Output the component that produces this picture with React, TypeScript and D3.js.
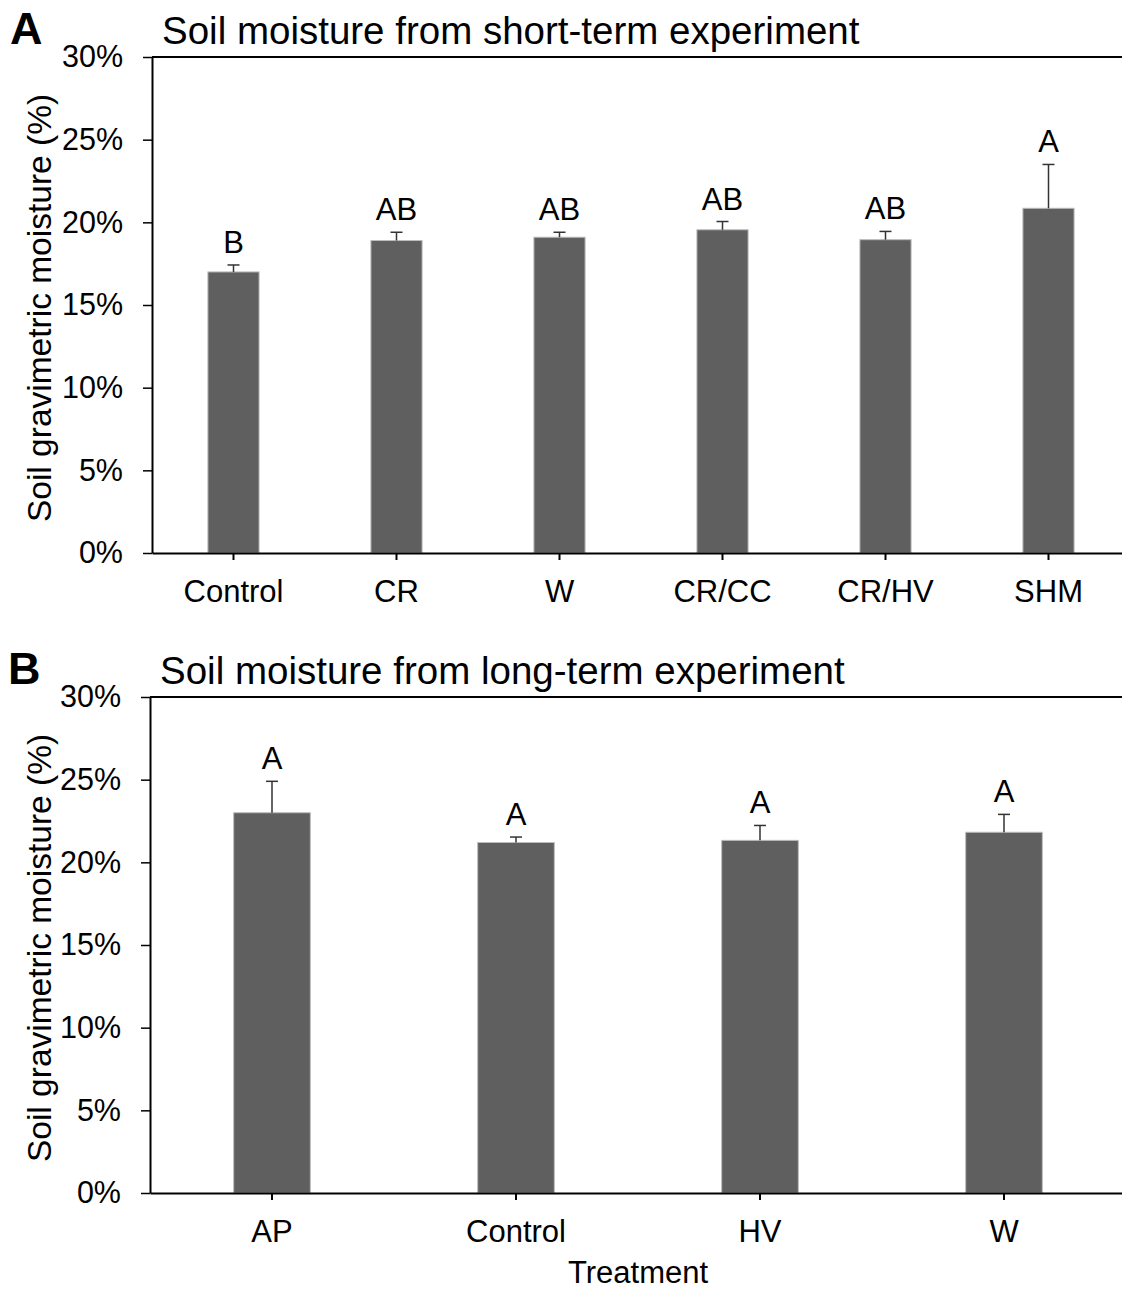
import React, { useRef, useEffect } from 'react';
import * as d3 from 'd3';

// short-term experiment (panel A)
const shortCats = ['Control', 'CR', 'W', 'CR/CC', 'CR/HV', 'SHM'];
const shortMeans = [17.0, 18.9, 19.1, 19.55, 18.95, 20.85];
const shortErr = [0.42, 0.5, 0.3, 0.5, 0.5, 2.65];
const shortLetters = ['B', 'AB', 'AB', 'AB', 'AB', 'A'];

// long-term experiment (panel B)
const longCats = ['AP', 'Control', 'HV', 'W'];
const longMeans = [23.0, 21.2, 21.33, 21.82];
const longErr = [1.9, 0.33, 0.9, 1.08];
const longLetters = ['A', 'A', 'A', 'A'];

const yTicks = [0, 5, 10, 15, 20, 25, 30];

const FONT = 'Liberation Sans, Arial, Helvetica, sans-serif';

type Panel = {
  tag: string;
  title: string;
  cats: string[];
  means: number[];
  errs: number[];
  letters: string[];
  left: number;
  right: number;
  top: number;
  bottom: number;
};

const App = () => {
  const svgRef = useRef<SVGSVGElement | null>(null);

  useEffect(() => {
    const svg = d3.select(svgRef.current);
    svg.selectAll('*').remove();

    const panels: Panel[] = [
      { tag: 'A', title: 'Soil moisture from short-term experiment', cats: shortCats, means: shortMeans, errs: shortErr, letters: shortLetters, left: 152, right: 1130, top: 57, bottom: 553 },
      { tag: 'B', title: 'Soil moisture from long-term experiment', cats: longCats, means: longMeans, errs: longErr, letters: longLetters, left: 150, right: 1126, top: 697, bottom: 1193 },
    ];

    panels.forEach((p) => {
      const x = d3.scaleBand<string>()
        .domain(p.cats)
        .range([p.left, p.right])
        .paddingInner(0.686)
        .paddingOuter(0.343);

      const y = d3.scaleLinear()
        .domain([0, 30])
        .range([p.bottom, p.top]);

      const g = svg.append('g');

      // panel letter + title
      g.append('text')
        .attr('x', p.left - 142)
        .attr('y', p.top - 13)
        .attr('font-size', 45)
        .attr('font-weight', 'bold')
        .attr('font-family', FONT)
        .text(p.tag);

      g.append('text')
        .attr('x', p.left + 10)
        .attr('y', p.top - 13)
        .attr('font-size', 38.5)
        .attr('font-family', FONT)
        .text(p.title);

      // top frame line
      g.append('line')
        .attr('x1', p.left)
        .attr('x2', p.right)
        .attr('y1', p.top)
        .attr('y2', p.top)
        .attr('stroke', '#000')
        .attr('stroke-width', 2);

      // bars
      g.selectAll('rect.bar')
        .data(p.cats)
        .enter()
        .append('rect')
        .attr('class', 'bar')
        .attr('x', (d) => x(d)!)
        .attr('width', x.bandwidth())
        .attr('y', (_, i) => y(p.means[i]))
        .attr('height', (_, i) => p.bottom - y(p.means[i]))
        .attr('fill', '#5f5f5f')
        .attr('stroke', '#bcbcbc')
        .attr('stroke-width', 1);

      // error bars (upper only)
      const eb = g.selectAll('g.err')
        .data(p.cats)
        .enter()
        .append('g')
        .attr('class', 'err')
        .attr('stroke', '#333')
        .attr('stroke-width', 1.5);

      eb.append('line')
        .attr('x1', (d) => x(d)! + x.bandwidth() / 2)
        .attr('x2', (d) => x(d)! + x.bandwidth() / 2)
        .attr('y1', (_, i) => y(p.means[i]))
        .attr('y2', (_, i) => y(p.means[i] + p.errs[i]));

      eb.append('line')
        .attr('x1', (d) => x(d)! + x.bandwidth() / 2 - 6)
        .attr('x2', (d) => x(d)! + x.bandwidth() / 2 + 6)
        .attr('y1', (_, i) => y(p.means[i] + p.errs[i]))
        .attr('y2', (_, i) => y(p.means[i] + p.errs[i]));

      // significance letters
      g.selectAll('text.letter')
        .data(p.cats)
        .enter()
        .append('text')
        .attr('class', 'letter')
        .attr('x', (d) => x(d)! + x.bandwidth() / 2)
        .attr('y', (_, i) => y(p.means[i] + p.errs[i]) - 12)
        .attr('text-anchor', 'middle')
        .attr('font-size', 31)
        .attr('font-family', FONT)
        .text((_, i) => p.letters[i]);

      // y axis
      const yAxis = g.append('g')
        .attr('transform', `translate(${p.left},0)`)
        .call(d3.axisLeft(y).tickValues(yTicks).tickSize(9).tickSizeOuter(0).tickPadding(20).tickFormat((d) => `${d}%`));
      yAxis.select('.domain').attr('stroke', '#000').attr('stroke-width', 2);
      yAxis.selectAll('.tick line').attr('stroke', '#000').attr('stroke-width', 1.5);
      yAxis.selectAll('.tick text')
        .attr('font-size', 30.5)
        .attr('font-family', FONT)
        .attr('fill', '#000');

      // x axis
      const xAxis = g.append('g')
        .attr('transform', `translate(0,${p.bottom})`)
        .call(d3.axisBottom(x).tickSize(7).tickSizeOuter(0).tickPadding(20));
      xAxis.select('.domain').attr('stroke', '#000').attr('stroke-width', 2);
      xAxis.selectAll('.tick line').attr('stroke', '#000').attr('stroke-width', 2);
      xAxis.selectAll('.tick text')
        .attr('font-size', 31)
        .attr('font-family', FONT)
        .attr('fill', '#000');

      // y axis title
      g.append('text')
        .attr('transform', `translate(51,${(p.top + p.bottom) / 2 + 3}) rotate(-90)`)
        .attr('text-anchor', 'middle')
        .attr('font-size', 33.5)
        .attr('font-family', FONT)
        .text('Soil gravimetric moisture (%)');

      if (p.tag === 'B') {
        g.append('text')
          .attr('x', (p.left + p.right) / 2)
          .attr('y', p.bottom + 90)
          .attr('text-anchor', 'middle')
          .attr('font-size', 31)
          .attr('font-family', FONT)
          .text('Treatment');
      }
    });
  }, []);

  return (
    <svg
      ref={svgRef}
      width={1122}
      height={1289}
      style={{ position: 'absolute', left: 0, top: 0, background: '#fff' }}
    />
  );
};

export default App;
